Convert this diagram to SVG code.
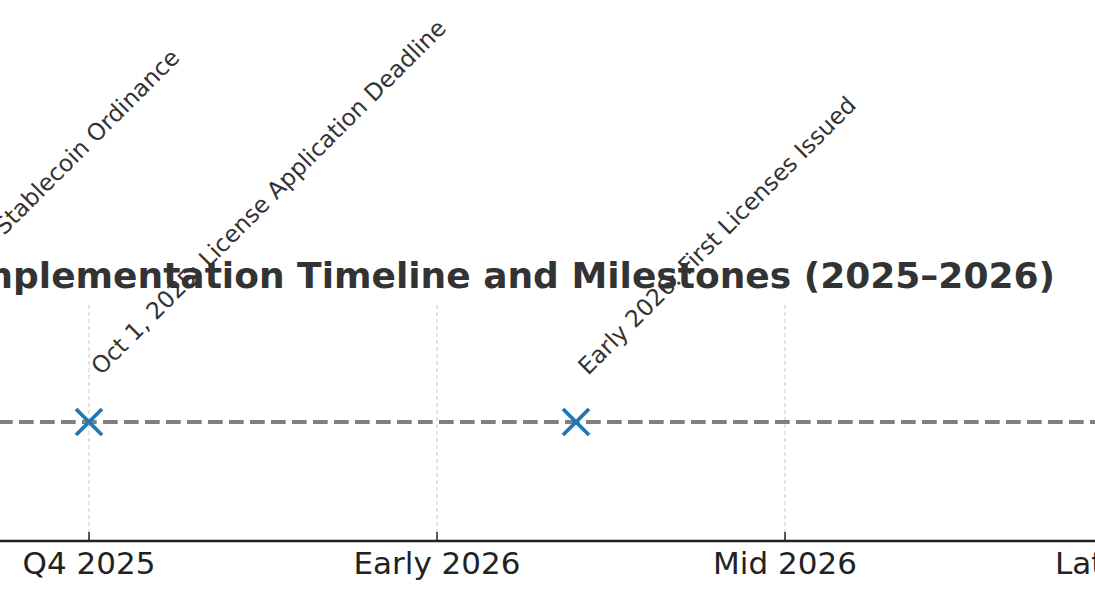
<svg xmlns="http://www.w3.org/2000/svg" width="1095" height="600" viewBox="0 0 1095 600">
<style>
.title{font-family:"DejaVu Sans",sans-serif;font-weight:bold;font-size:36px;fill:#333333}
.lbl{font-family:"DejaVu Sans",sans-serif;font-size:23.4px;fill:#333333}
.tick{font-family:"DejaVu Sans",sans-serif;font-size:31px;fill:#222222;text-anchor:middle}
.grid{stroke:#c8c8c8;stroke-width:1;stroke-dasharray:4 3;fill:none}
.mk{stroke:#1f77b4;stroke-width:3.8;fill:none}
</style>
<rect x="0" y="0" width="1095" height="600" fill="#ffffff"/>
<g id="grid">
<line class="grid" x1="89" y1="305" x2="89" y2="541"/>
<line class="grid" x1="437" y1="305" x2="437" y2="541"/>
<line class="grid" x1="785" y1="305" x2="785" y2="541"/>
</g>
<text id="title" class="title" x="1055" y="288" text-anchor="end">Implementation Timeline and Milestones (2025–2026)</text>
<g id="connectors">
<line x1="0" y1="422" x2="1095" y2="422" stroke="#808080" stroke-width="4" stroke-dasharray="14.7 6.3" stroke-dashoffset="2"/>
</g>
<g id="axis">
<line x1="0" y1="541" x2="1095" y2="541" stroke="#222222" stroke-width="2.5"/>
<line x1="89" y1="532" x2="89" y2="541" stroke="#222222" stroke-width="1.5"/>
<line x1="437" y1="532" x2="437" y2="541" stroke="#222222" stroke-width="1.5"/>
<line x1="785" y1="532" x2="785" y2="541" stroke="#222222" stroke-width="1.5"/>
<text class="tick" x="89" y="574">Q4 2025</text>
<text class="tick" x="437" y="574">Early 2026</text>
<text class="tick" x="785" y="574">Mid 2026</text>
<text class="tick" x="1133" y="574">Late 2026</text>
</g>
<g id="milestone-ordinance">
<text class="lbl" text-anchor="end" transform="translate(181,59) rotate(-45)">Stablecoin Ordinance</text>
</g>
<g id="milestone-oct">
<path class="mk" d="M76 409 L102 435 M76 435 L102 409"/>
<text class="lbl" transform="translate(101,376) rotate(-45)">Oct 1, 2025: License Application Deadline</text>
</g>
<g id="milestone-early2026">
<path class="mk" d="M563 409 L589 435 M563 435 L589 409"/>
<text class="lbl" transform="translate(588,376) rotate(-45)">Early 2026: First Licenses Issued</text>
</g>
</svg>
